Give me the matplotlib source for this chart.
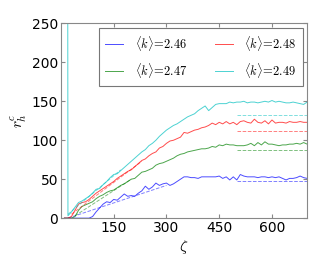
import numpy as np
import matplotlib
matplotlib.use("Agg")
import matplotlib.pyplot as plt

plt.rcParams['mathtext.fontset'] = 'cm'
plt.rcParams['font.family'] = ['DejaVu Sans']

zeta = list(range(10, 701, 10))

blue = [0, 0, 0, 0, 0, 0, 0, 0, 2, 8, 13, 18, 21, 20, 24, 23, 27, 31, 28, 29,
        28, 32, 35, 41, 37, 40, 45, 42, 44, 45, 42, 44, 47, 50, 53, 53, 52, 52, 51, 53,
        53, 53, 53, 53, 54, 51, 53, 49, 53, 49, 56, 54, 53, 53, 53, 52, 53, 53, 52, 53,
        52, 53, 51, 49, 51, 51, 52, 54, 52, 51]
green = [0, 0, 0, 2, 10, 15, 17, 19, 21, 25, 28, 30, 33, 35, 36, 39, 42, 44, 47, 50,
         51, 55, 59, 60, 62, 64, 68, 70, 71, 73, 75, 77, 80, 82, 83, 85, 86, 87, 88, 89,
         89, 90, 92, 91, 94, 93, 95, 94, 94, 93, 93, 93, 94, 96, 93, 97, 94, 98, 95, 95,
         94, 93, 94, 94, 95, 95, 96, 95, 97, 95]
red = [0, 0, 2, 10, 18, 20, 21, 24, 28, 32, 35, 38, 41, 44, 47, 51, 54, 57, 60, 62,
       66, 70, 74, 76, 80, 83, 85, 90, 92, 96, 99, 100, 102, 104, 110, 109, 111, 113, 114, 116,
       117, 119, 122, 120, 123, 121, 124, 121, 123, 120, 124, 125, 123, 122, 127, 123, 122, 125, 121, 126,
       122, 123, 123, 122, 124, 123, 123, 124, 123, 123]
cyan = [5000, 3, 8, 14, 20, 22, 25, 28, 32, 37, 38, 43, 47, 52, 56, 57, 61, 65, 69, 73,
        77, 81, 85, 88, 93, 96, 100, 105, 109, 113, 116, 119, 121, 124, 127, 130, 132, 134, 138, 141,
        144, 138, 142, 146, 147, 147, 147, 149, 148, 149, 149, 150, 148, 149, 149, 148, 149, 150, 149, 151,
        149, 150, 149, 148, 148, 149, 148, 147, 146, 149]

series = [(blue, 'b', r'$\langle k\rangle\!=\!2.46$'),
          (green, 'g', r'$\langle k\rangle\!=\!2.47$'),
          (red, 'r', r'$\langle k\rangle\!=\!2.48$'),
          (cyan, 'c', r'$\langle k\rangle\!=\!2.49$')]

# early-growth fits (zeta start/end, value start/end)
fit_early = {'b': ([20, 300], [0, 42]),
             'g': ([40, 200], [3, 50]),
             'r': ([30, 230], [5, 73]),
             'c': ([20, 170], [5, 62])}
# plateau levels
plateau_x = [500, 700]
plateau = {'b': 48, 'g': 87, 'r': 112, 'c': 133}

fig = plt.figure(figsize=(3.24, 2.66), dpi=100)
ax = fig.add_axes([0.188, 0.180, 0.760, 0.732])

handles = []
for ys, c, lab in series:
    h, = ax.plot(zeta, ys, color=c, lw=0.7, alpha=0.7, label=lab)
    handles.append(h)
    fx, fy = fit_early[c]
    ax.plot(fx, fy, color=c, lw=0.7, alpha=0.5, ls='--')
    ax.plot(plateau_x, [plateau[c]] * 2, color=c, lw=0.7, alpha=0.5, ls='--')

ax.set_xlim(0, 700)
ax.set_ylim(0, 250)
ax.set_xticks([150, 300, 450, 600])
ax.set_yticks([0, 50, 100, 150, 200, 250])
ax.tick_params(direction='in', top=True, right=True, labelsize=10, length=3,
               color='#888888', pad=2)
for s in ax.spines.values():
    s.set_color('#888888')
ax.set_xlabel(r'$\zeta$', fontsize=11, labelpad=2)
ax.set_ylabel(r'$r_h^c$', fontsize=11, labelpad=2)

leg = ax.legend(handles=handles, loc='upper right', ncol=2, fontsize=9,
                fancybox=False, framealpha=1, edgecolor='#777777',
                handlelength=1.45, handletextpad=0.9, columnspacing=2.2,
                labelspacing=0.6, borderpad=0.5, borderaxespad=0.35)
leg.get_frame().set_linewidth(0.8)

fig.savefig('out.png', dpi=100)
